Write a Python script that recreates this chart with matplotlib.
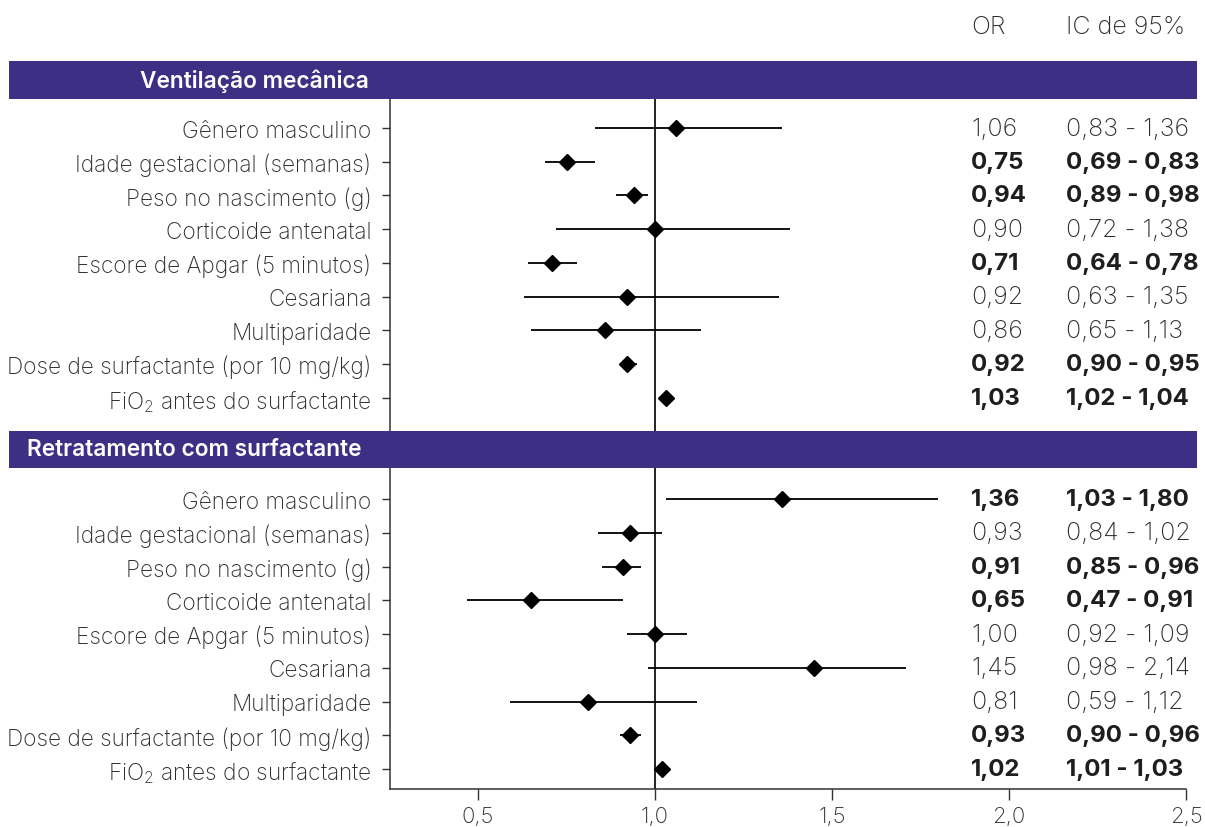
import matplotlib
matplotlib.use("Agg")
import matplotlib.pyplot as plt
from matplotlib.patches import Rectangle
import matplotlib.transforms as mtransforms

FONT = 'Inter'
plt.rcParams['font.family'] = [FONT, 'DejaVu Sans']
plt.rcParams['mathtext.fontset'] = 'custom'
plt.rcParams['mathtext.rm'] = FONT + ':light'
plt.rcParams['mathtext.it'] = FONT + ':light:italic'

# ---- data ----
variables = ["Gênero masculino", "Idade gestacional (semanas)", "Peso no nascimento (g)",
             "Corticoide antenatal", "Escore de Apgar (5 minutos)", "Cesariana",
             "Multiparidade", "Dose de surfactante (por 10 mg/kg)",
             "FiO$_\\mathrm{2}$ antes do surfactante"]
group_titles = ["Ventilação mecânica", "Retratamento com surfactante"]

# markers / whiskers as drawn in the picture
vm_or = [1.06, 0.75, 0.94, 1.00, 0.71, 0.92, 0.86, 0.92, 1.03]
vm_lo = [0.83, 0.69, 0.89, 0.72, 0.64, 0.63, 0.65, 0.90, 1.02]
vm_hi = [1.36, 0.83, 0.98, 1.38, 0.78, 1.35, 1.13, 0.95, 1.04]
rs_or = [1.36, 0.93, 0.91, 0.65, 1.00, 1.45, 0.81, 0.93, 1.02]
rs_lo = [1.03, 0.84, 0.85, 0.47, 0.92, 0.98, 0.59, 0.90, 1.01]
rs_hi = [1.80, 1.02, 0.96, 0.91, 1.09, 1.71, 1.12, 0.96, 1.03]

# printed columns
vm_or_txt = ["1,06", "0,75", "0,94", "0,90", "0,71", "0,92", "0,86", "0,92", "1,03"]
vm_ci_txt = ["0,83 - 1,36", "0,69 - 0,83", "0,89 - 0,98", "0,72 - 1,38", "0,64 - 0,78",
             "0,63 - 1,35", "0,65 - 1,13", "0,90 - 0,95", "1,02 - 1,04"]
vm_sig = [False, True, True, False, True, False, False, True, True]
rs_or_txt = ["1,36", "0,93", "0,91", "0,65", "1,00", "1,45", "0,81", "0,93", "1,02"]
rs_ci_txt = ["1,03 - 1,80", "0,84 - 1,02", "0,85 - 0,96", "0,47 - 0,91", "0,92 - 1,09",
             "0,98 - 2,14", "0,59 - 1,12", "0,90 - 0,96", "1,01 - 1,03"]
rs_sig = [True, False, True, True, False, False, False, True, True]

xticks = [0.5, 1.0, 1.5, 2.0, 2.5]
xtick_labels = ["0,5", "1,0", "1,5", "2,0", "2,5"]
col_headers = ["OR", "IC de 95%"]

# ---- figure ----
W, H = 1205, 828
fig = plt.figure(figsize=(W / 100, H / 100), dpi=100)
ax_l, ax_r, ax_t, ax_b = 389.5, 1186, 100, 790
ax = fig.add_axes([ax_l / W, 1 - ax_b / H, (ax_r - ax_l) / W, (ax_b - ax_t) / H])

purple = "#3d2f84"
txt_grey = "#2e2e2e"
dark = "#1e1e1e"

ors = vm_or + rs_or
los = vm_lo + rs_lo
his = vm_hi + rs_hi
ypos = list(range(0, 9)) + list(range(11, 20))

for y, o, lo, hi in zip(ypos, ors, los, his):
    ax.plot([lo, hi], [y, y], color="black", lw=1.3, solid_capstyle="butt", zorder=2)
ax.plot(ors, ypos, linestyle="none", marker="D", markersize=8, color="black", zorder=3)

ax.axvline(1.0, color="#222222", lw=1.4, zorder=1)

LBL = 16.3
VAL = 18
BVAL = 17.3
ax.set_xlim(0.25, 2.5)
ax.set_ylim(19.59, -0.86)
ax.set_xticks(xticks)
ax.set_xticklabels(xtick_labels, fontsize=16, fontweight="light", color=txt_grey)
ax.set_yticks(ypos)
ax.set_yticklabels(variables + variables, fontsize=LBL, fontweight="light", color=txt_grey)
ax.tick_params(axis="y", length=6, width=1, color="#333333", pad=7)
ax.tick_params(axis="x", length=8, width=1, color="#333333", pad=4)
for s in ["top", "right"]:
    ax.spines[s].set_visible(False)
for s in ["left", "bottom"]:
    ax.spines[s].set_color("#333333")
    ax.spines[s].set_linewidth(1.1)

# value columns
tr = mtransforms.blended_transform_factory(fig.transFigure, ax.transData)
or_x, ci_x = 971 / W, 1066 / W
all_or_txt = vm_or_txt + rs_or_txt
all_ci_txt = vm_ci_txt + rs_ci_txt
all_sig = vm_sig + rs_sig
for y, ot, ct, sig in zip(ypos, all_or_txt, all_ci_txt, all_sig):
    kw = dict(va="center", ha="left", transform=tr)
    if sig:
        kw.update(fontsize=BVAL, fontweight="bold", color=dark)
    else:
        kw.update(fontsize=VAL, fontweight="light", color=txt_grey)
    fig.text(or_x, y, ot, **kw)
    fig.text(ci_x, y, ct, **kw)

fig.text(or_x, 1 - 27 / H, col_headers[0], fontsize=VAL, fontweight="light",
         color=txt_grey, va="center", ha="left")
fig.text(ci_x, 1 - 27 / H, col_headers[1], fontsize=VAL, fontweight="light",
         color=txt_grey, va="center", ha="left")

# group header bars
bars = [(62, 100, 140), (432, 469, 27)]
for (top, bot, tx), title in zip(bars, group_titles):
    fig.add_artist(Rectangle((9 / W, 1 - bot / H), (1197 - 9) / W, (bot - top) / H,
                             transform=fig.transFigure, facecolor=purple,
                             edgecolor="none", zorder=5))
    fig.text(tx / W, 1 - (top + bot) / 2 / H, title, fontsize=16.3, fontweight="semibold",
             color="white", va="center", ha="left", zorder=6)

fig.savefig("out.png", dpi=100)
